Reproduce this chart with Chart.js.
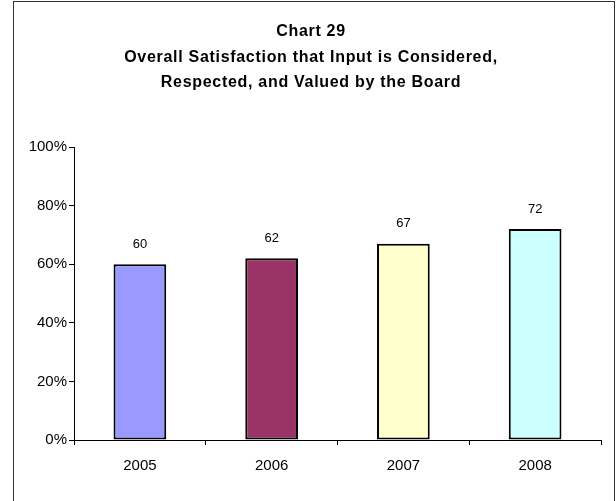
<!DOCTYPE html>
<html>
<head>
<meta charset="utf-8">
<script src="https://cdn.jsdelivr.net/npm/chart.js@4/dist/chart.umd.min.js"></script>
<style>
    html, body { margin: 0; padding: 0; background: #fff; }
    #wrap { position: relative; width: 616px; height: 501px; }
</style>
</head>
<body>
<div id="wrap"><canvas id="satChart" width="616" height="501"></canvas></div>
<script>
const years = ["2005", "2006", "2007", "2008"];
const satisfaction = [60, 62, 67, 72];
const barColors = ["#9999FF", "#993366", "#FFFFCC", "#CCFFFF"];
const titleLines = [
    "Chart 29",
    "Overall Satisfaction that Input is Considered,",
    "Respected, and Valued by the Board"
];
const yTicks = [0, 20, 40, 60, 80, 100];

const fontFamily = "Arial, 'Liberation Sans', sans-serif";

// frame round the chart and the three title lines
const framePlugin = {
    id: "frame",
    beforeDraw(chart) {
        const ctx = chart.ctx;
        ctx.save();
        ctx.strokeStyle = "#333";
        ctx.lineWidth = 1;
        ctx.strokeRect(13.5, 1.5, 601, 560);

        ctx.fillStyle = "#000";
        ctx.font = "bold 16px " + fontFamily;
        ctx.textAlign = "center";
        ctx.textBaseline = "alphabetic";
        if ("letterSpacing" in ctx) ctx.letterSpacing = "0.7px";
        const base = [36, 62, 87];
        titleLines.forEach((line, i) => ctx.fillText(line, 311, base[i]));
        ctx.restore();
    }
};

// value written above each bar
const valueLabels = {
    id: "valueLabels",
    afterDatasetsDraw(chart) {
        const ctx = chart.ctx;
        const meta = chart.getDatasetMeta(0);
        ctx.save();
        ctx.fillStyle = "#000";
        ctx.font = "13px " + fontFamily;
        ctx.textAlign = "center";
        ctx.textBaseline = "middle";
        meta.data.forEach((bar, i) => {
            ctx.fillText(String(satisfaction[i]), bar.x, bar.y - 20);
        });
        ctx.restore();
    }
};

const ctx = document.getElementById("satChart").getContext("2d");

new Chart(ctx, {
    type: "bar",
    data: {
        labels: years,
        datasets: [{
            data: satisfaction,
            backgroundColor: barColors,
            borderColor: "#000",
            borderWidth: 2,
            borderSkipped: false,
            barPercentage: 0.4,
            categoryPercentage: 1
        }]
    },
    options: {
        responsive: false,
        animation: false,
        devicePixelRatio: 1,
        layout: { padding: { top: 147, right: 15, left: 0, bottom: 0 } },
        plugins: {
            legend: { display: false },
            title: { display: false },
            tooltip: { enabled: false }
        },
        scales: {
            x: {
                afterFit(scale) { scale.height = 61; },
                grid: {
                    offset: true,
                    drawOnChartArea: false,
                    drawTicks: true,
                    tickLength: 5,
                    color: "#000"
                },
                border: { display: true, color: "#000", width: 1 },
                ticks: {
                    color: "#000",
                    padding: 12,
                    font: { family: fontFamily, size: 15 }
                }
            },
            y: {
                min: 0,
                max: 100,
                afterFit(scale) { scale.width = 74; },
                afterBuildTicks(scale) {
                    scale.ticks = yTicks.map(v => ({ value: v }));
                },
                grid: {
                    drawOnChartArea: false,
                    drawTicks: true,
                    tickLength: 5,
                    color: "#000"
                },
                border: { display: true, color: "#000", width: 1 },
                ticks: {
                    color: "#000",
                    padding: 2,
                    font: { family: fontFamily, size: 15 },
                    callback: v => v + "%"
                }
            }
        }
    },
    plugins: [framePlugin, valueLabels]
});
</script>
</body>
</html>
